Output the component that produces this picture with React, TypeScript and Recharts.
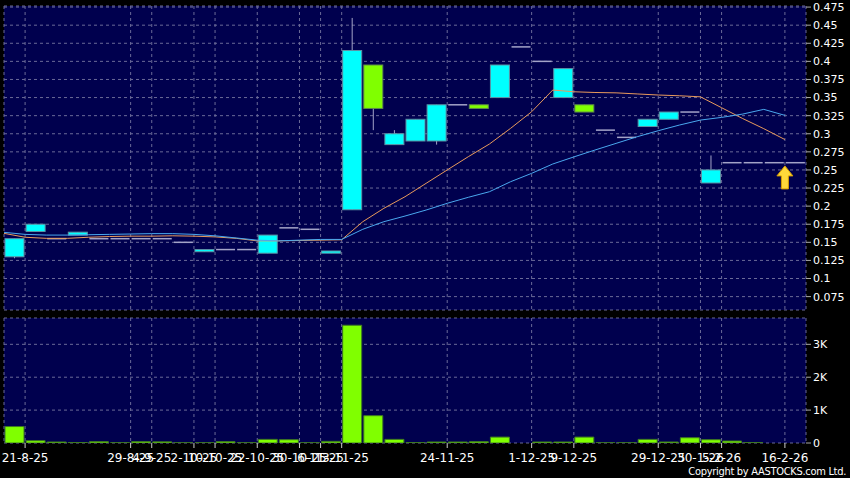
import React from "react";
import {
    ComposedChart,
    Bar,
    Line,
    XAxis,
    YAxis,
    CartesianGrid,
    ReferenceDot,
} from "recharts";

// one entry per trading slot (38 slots)
const opens = [0.13, 0.165, 0.155, 0.16, 0.155, 0.155, 0.155, 0.155, 0.15, 0.137, 0.14, 0.14, 0.135, 0.17, 0.168, 0.135, 0.195, 0.395, 0.285, 0.29, 0.29, 0.34, 0.34, 0.35, 0.42, 0.4, 0.35, 0.34, 0.305, 0.295, 0.31, 0.32, 0.33, 0.232, 0.26, 0.26, 0.26, 0.26];
const closes = [0.155, 0.175, 0.155, 0.164, 0.155, 0.155, 0.155, 0.155, 0.15, 0.14, 0.14, 0.14, 0.16, 0.17, 0.168, 0.138, 0.415, 0.335, 0.3, 0.32, 0.34, 0.34, 0.335, 0.395, 0.42, 0.4, 0.39, 0.33, 0.305, 0.295, 0.32, 0.33, 0.33, 0.25, 0.26, 0.26, 0.26, 0.26];
const highs = [0.155, 0.175, 0.155, 0.164, 0.155, 0.155, 0.155, 0.155, 0.15, 0.14, 0.14, 0.14, 0.16, 0.17, 0.168, 0.138, 0.46, 0.395, 0.305, 0.32, 0.34, 0.34, 0.34, 0.395, 0.42, 0.4, 0.39, 0.34, 0.305, 0.295, 0.32, 0.33, 0.33, 0.27, 0.26, 0.26, 0.26, 0.26];
const lows = [0.128, 0.165, 0.155, 0.16, 0.155, 0.155, 0.155, 0.155, 0.15, 0.137, 0.14, 0.14, 0.135, 0.17, 0.168, 0.135, 0.195, 0.305, 0.285, 0.29, 0.285, 0.34, 0.335, 0.35, 0.42, 0.4, 0.35, 0.33, 0.305, 0.295, 0.31, 0.32, 0.33, 0.232, 0.26, 0.26, 0.26, 0.26];
const maShort = [0.1624, 0.157, 0.1555, 0.1555, 0.157, 0.158, 0.1585, 0.1585, 0.159, 0.1585, 0.1575, 0.1555, 0.152, 0.152, 0.1525, 0.153, 0.1535, 0.1785, 0.197, 0.213, 0.2315, 0.25, 0.2683, 0.2858, 0.3074, 0.3304, 0.3604, 0.358, 0.357, 0.3565, 0.355, 0.3535, 0.3525, 0.351, 0.336, 0.321, 0.307, 0.292];
const maLong = [0.1638, 0.161, 0.16, 0.16, 0.1605, 0.161, 0.1615, 0.162, 0.162, 0.161, 0.159, 0.156, 0.153, 0.152, 0.153, 0.154, 0.154, 0.168, 0.1785, 0.1863, 0.1946, 0.2039, 0.2122, 0.2199, 0.2337, 0.2453, 0.2582, 0.268, 0.2775, 0.2867, 0.2959, 0.3042, 0.312, 0.3189, 0.3226, 0.3272, 0.3337, 0.3254];
const volumes = [500, 70, 30, 15, 40, 5, 40, 35, 5, 5, 40, 5, 110, 100, 5, 50, 3580, 830, 110, 10, 30, 30, 40, 180, 0, 30, 30, 180, 5, 5, 110, 30, 160, 100, 60, 10, 0, 0];

const tickSlots = [1, 6, 7, 9, 10, 12, 14, 15, 16, 21, 25, 27, 31, 33, 34, 37];
const tickLabels = ["21-8-25", "29-8-25", "4-9-25", "2-10-25", "10-10-25", "22-10-25", "30-10-25", "6-11-25", "13-11-25", "24-11-25", "1-12-25", "9-12-25", "29-12-25", "30-1-26", "5-2-26", "16-2-26"];
const priceTicks = [0.075, 0.1, 0.125, 0.15, 0.175, 0.2, 0.225, 0.25, 0.275, 0.3, 0.325, 0.35, 0.375, 0.4, 0.425, 0.45, 0.475];
const volTicks = [0, 1000, 2000, 3000];
const arrowMark = { slot: 37, price: 0.239 };

const rows = opens.map((o, i) => ({
    i,
    open: o,
    close: closes[i],
    high: highs[i],
    low: lows[i],
    maShort: maShort[i],
    maLong: maLong[i],
    vol: volumes[i],
}));

const PANEL = "#00004e";
const GRID = "#6a6a98";
const tickStyle = { fill: "#ffffff", fontSize: 11 };

function Candle(props: any) {
    const { x, y, width, height, payload } = props;
    const { open, close, high, low } = payload;
    if (high === low) {
        return <line x1={x} x2={x + width} y1={y} y2={y} stroke="#a4a4c8" strokeWidth={1.5} />;
    }
    const k = height / (high - low);
    const yOf = (v: number) => y + (high - v) * k;
    const cx = x + width / 2;
    const top = yOf(Math.max(open, close));
    const bot = yOf(Math.min(open, close));
    const up = close > open;
    return (
        <g>
            <line x1={cx} x2={cx} y1={y} y2={y + height} stroke="#a4a4c8" strokeWidth={1} />
            {bot - top < 0.5 ? (
                <line x1={x} x2={x + width} y1={top} y2={top} stroke="#a4a4c8" strokeWidth={1.5} />
            ) : (
                <rect
                    x={x}
                    y={top}
                    width={width}
                    height={bot - top}
                    fill={up ? "#00ffff" : "#80ff00"}
                    stroke={up ? "#5c93a6" : "#5e8a4a"}
                    strokeWidth={1}
                />
            )}
        </g>
    );
}

function UpArrow(props: any) {
    const { cx, cy } = props;
    const pts = [
        [cx, cy - 12],
        [cx + 8, cy - 2],
        [cx + 3.5, cy - 2],
        [cx + 3.5, cy + 11],
        [cx - 3.5, cy + 11],
        [cx - 3.5, cy - 2],
        [cx - 8, cy - 2],
    ]
        .map((p) => p.join(","))
        .join(" ");
    return <polygon points={pts} fill="#ffd83a" stroke="#d9a000" strokeWidth={1} />;
}

export default function App() {
    return (
        <div
            style={{
                position: "absolute",
                left: 0,
                top: 0,
                width: 850,
                height: 478,
                background: "#000000",
                fontFamily: "'DejaVu Sans', sans-serif",
                overflow: "hidden",
            }}
        >
            <div style={{ position: "absolute", left: 0, top: 0 }}>
                <ComposedChart width={850} height={312} data={rows} margin={{ top: 6, right: 0, bottom: 2, left: 4 }}>
                    <CartesianGrid xAxisId="a" stroke={GRID} strokeDasharray="3 3" fill={PANEL} fillOpacity={1} />
                    <XAxis xAxisId="a" type="number" dataKey="i" domain={[0, 38]} ticks={tickSlots} hide />
                    <XAxis xAxisId="b" type="number" dataKey="i" domain={[-0.5, 37.5]} hide />
                    <YAxis
                        orientation="right"
                        width={44}
                        domain={[0.0565, 0.4765]}
                        allowDataOverflow
                        ticks={priceTicks}
                        interval={0}
                        axisLine={false}
                        tickLine={{ stroke: "#aaaaaa" }}
                        tickSize={5}
                        tick={tickStyle}
                        tickFormatter={(v) => String(v)}
                    />
                    <Bar
                        xAxisId="b"
                        dataKey={(d: any) => [d.low, d.high]}
                        barSize={19}
                        shape={Candle}
                        isAnimationActive={false}
                    />
                    <Line xAxisId="a" type="linear" dataKey="maShort" stroke="#e89a5c" strokeWidth={1} dot={false} isAnimationActive={false} />
                    <Line xAxisId="a" type="linear" dataKey="maLong" stroke="#4aa8ee" strokeWidth={1} dot={false} isAnimationActive={false} />
                    <ReferenceDot xAxisId="a" x={arrowMark.slot} y={arrowMark.price} shape={UpArrow} />
                </ComposedChart>
            </div>
            <div style={{ position: "absolute", left: 0, top: 312 }}>
                <ComposedChart width={850} height={166} data={rows} margin={{ top: 6, right: 0, bottom: 5, left: 4 }}>
                    <CartesianGrid xAxisId="a" stroke={GRID} strokeDasharray="3 3" fill={PANEL} fillOpacity={1} />
                    <XAxis
                        xAxisId="a"
                        type="number"
                        dataKey="i"
                        domain={[0, 38]}
                        ticks={tickSlots}
                        interval={0}
                        height={30}
                        axisLine={false}
                        tickLine={{ stroke: "#cccccc" }}
                        tickSize={5}
                        tickMargin={5}
                        tick={{ fill: "#ffffff", fontSize: 12 }}
                        tickFormatter={(v) => tickLabels[tickSlots.indexOf(v)]}
                    />
                    <XAxis xAxisId="b" type="number" dataKey="i" domain={[-0.5, 37.5]} hide />
                    <YAxis
                        orientation="right"
                        width={44}
                        domain={[0, 3800]}
                        allowDataOverflow
                        ticks={volTicks}
                        interval={0}
                        axisLine={false}
                        tickLine={{ stroke: "#aaaaaa" }}
                        tickSize={5}
                        tick={tickStyle}
                        tickFormatter={(v) => (v === 0 ? "0" : v / 1000 + "K")}
                    />
                    <Bar
                        xAxisId="b"
                        dataKey="vol"
                        barSize={19}
                        fill="#80ff00"
                        stroke="#3f7a22"
                        strokeWidth={1}
                        isAnimationActive={false}
                    />
                </ComposedChart>
            </div>
            <div
                style={{
                    position: "absolute",
                    right: 4,
                    top: 465,
                    color: "#ffffff",
                    fontSize: 11,
                    letterSpacing: -0.3,
                    fontFamily: "'DejaVu Sans Condensed', 'Liberation Sans Narrow', sans-serif",
                    whiteSpace: "nowrap",
                    lineHeight: "13px",
                }}
            >
                Copyright by AASTOCKS.com Ltd.
            </div>
        </div>
    );
}
